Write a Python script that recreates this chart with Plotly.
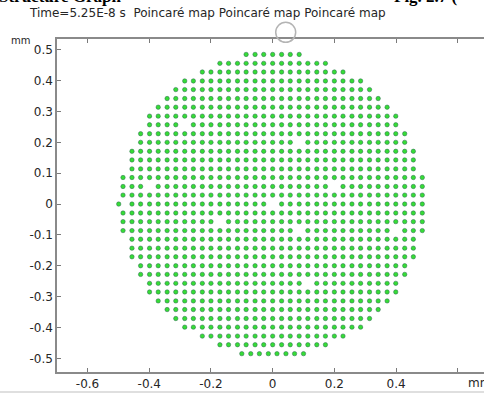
import plotly.graph_objects as go

# Poincaré map: particle positions (micrometres)
row_y_um = [485, 456, 428, 399, 371, 342, 314, 285, 257, 228, 200, 171, 143, 114, 86, 57, 29, 0,
            -29, -57, -86, -114, -143, -171, -200, -228, -257, -285, -314, -342, -371, -399, -428, -456, -485]

row_x_um = [
    [-86, -57, -29, 0, 29, 57, 86],
    [-171, -143, -114, -86, -57, -29, 0, 29, 57, 86, 114, 143, 171],
    [-228, -200, -171, -143, -114, -86, -57, -29, 0, 29, 57, 86, 114, 143, 171, 200, 228],
    [-285, -257, -228, -200, -171, -143, -114, -86, -57, -29, 0, 29, 57, 86, 114, 143, 171, 200, 228, 257, 285],
    [-314, -285, -257, -228, -200, -171, -143, -114, -86, -57, -29, 0, 29, 57, 86, 114, 143, 171, 200, 228, 257, 285, 314],
    [-342, -314, -285, -257, -228, -200, -171, -143, -114, -86, -57, -29, 0, 29, 57, 86, 114, 143, 171, 200, 228, 257, 285, 314, 342],
    [-371, -342, -314, -285, -257, -228, -200, -171, -143, -114, -86, -57, -29, 0, 29, 57, 86, 114, 143, 171, 200, 228, 257, 285, 314, 342, 371],
    [-399, -371, -342, -314, -285, -257, -228, -200, -171, -143, -114, -86, -57, -29, 0, 29, 57, 86, 114, 143, 171, 200, 228, 257, 285, 314, 342, 371, 399],
    [-399, -371, -342, -314, -257, -228, -200, -171, -143, -114, -86, -57, -29, 0, 29, 57, 86, 114, 143, 171, 200, 228, 257, 285, 314, 342, 371, 399],
    [-428, -399, -371, -342, -314, -285, -257, -228, -200, -171, -143, -114, -86, -57, -29, 0, 29, 57, 86, 114, 143, 171, 200, 228, 257, 285, 314, 342, 371, 399, 428],
    [-428, -399, -371, -342, -314, -285, -257, -228, -200, -171, -143, -114, -86, -57, -29, 0, 29, 57, 114, 143, 171, 200, 228, 257, 285, 314, 342, 371, 399, 428],
    [-456, -428, -399, -371, -342, -314, -285, -257, -228, -200, -171, -143, -114, -86, -57, -29, 0, 29, 57, 86, 114, 143, 171, 200, 228, 257, 285, 314, 342, 371, 399, 428, 456],
    [-456, -428, -399, -371, -342, -314, -285, -257, -228, -200, -171, -143, -114, -86, -57, -29, 0, 29, 57, 86, 114, 143, 171, 200, 228, 257, 285, 314, 342, 371, 399, 428, 456],
    [-456, -428, -399, -371, -342, -314, -285, -257, -228, -200, -171, -143, -114, -86, -57, -29, 0, 29, 57, 86, 114, 143, 171, 200, 228, 257, 285, 314, 342, 371, 399, 428, 456],
    [-485, -456, -428, -399, -371, -342, -314, -285, -257, -228, -200, -171, -143, -114, -86, -57, -29, 0, 29, 57, 86, 114, 143, 171, 200, 228, 257, 285, 314, 342, 371, 399, 428, 456, 485],
    [-485, -456, -428, -371, -342, -314, -285, -257, -228, -200, -171, -143, -114, -86, -57, -29, 0, 29, 57, 86, 114, 143, 171, 228, 257, 285, 314, 342, 371, 399, 428, 456, 485],
    [-485, -456, -428, -399, -371, -342, -314, -285, -257, -228, -200, -171, -143, -114, -86, -57, -29, 0, 29, 57, 86, 114, 143, 171, 200, 228, 257, 285, 314, 342, 371, 399, 428, 456, 485],
    [-499, -456, -428, -399, -371, -342, -314, -285, -257, -228, -200, -171, -143, -114, -86, -57, -29, 29, 57, 86, 114, 143, 171, 200, 228, 257, 285, 314, 342, 371, 399, 428, 456, 485],
    [-485, -456, -428, -399, -371, -342, -314, -285, -257, -228, -200, -171, -143, -114, -86, -57, -29, 0, 29, 57, 86, 114, 143, 171, 200, 228, 257, 285, 314, 342, 371, 399, 428, 456, 485],
    [-485, -456, -428, -399, -371, -342, -314, -285, -257, -228, -200, -143, -114, -86, -57, -29, 0, 29, 57, 86, 114, 143, 171, 200, 228, 257, 285, 314, 342, 371, 399, 428, 456, 485],
    [-485, -456, -428, -399, -371, -342, -314, -285, -257, -228, -200, -171, -143, -114, -86, -57, -29, 0, 29, 57, 114, 143, 171, 200, 228, 257, 285, 314, 342, 371, 428, 456, 485],
    [-456, -428, -399, -371, -342, -314, -285, -257, -228, -200, -171, -143, -114, -86, -57, -29, 0, 29, 57, 86, 114, 143, 171, 200, 228, 257, 285, 314, 342, 371, 399, 428, 456],
    [-456, -428, -399, -371, -342, -314, -285, -257, -228, -200, -171, -143, -114, -86, -57, -29, 0, 29, 57, 86, 114, 143, 171, 200, 228, 257, 285, 314, 342, 371, 399, 428, 456],
    [-456, -428, -399, -371, -342, -314, -285, -257, -228, -200, -171, -143, -114, -86, -57, -29, 0, 29, 57, 86, 114, 143, 171, 200, 228, 257, 285, 314, 342, 371, 399, 428, 456],
    [-428, -399, -371, -342, -314, -285, -257, -228, -200, -171, -143, -114, -86, -57, -29, 0, 29, 57, 86, 114, 143, 171, 200, 228, 257, 285, 314, 342, 371, 399, 428],
    [-428, -399, -371, -342, -314, -285, -257, -228, -200, -171, -143, -114, -86, -57, -29, 0, 29, 57, 86, 114, 143, 171, 200, 228, 257, 285, 314, 342, 371, 399, 428],
    [-399, -371, -342, -314, -285, -257, -228, -200, -171, -143, -114, -86, -57, -29, 0, 29, 57, 86, 143, 171, 200, 228, 257, 285, 314, 342, 371, 399],
    [-399, -371, -342, -314, -285, -257, -228, -200, -171, -143, -114, -86, -57, -29, 0, 29, 57, 86, 114, 143, 171, 200, 228, 257, 285, 314, 342, 371, 399],
    [-371, -342, -314, -285, -257, -228, -200, -171, -143, -114, -86, -57, -29, 0, 29, 57, 86, 114, 143, 171, 200, 228, 257, 285, 314, 342, 371],
    [-342, -314, -285, -257, -228, -200, -171, -143, -114, -86, -57, -29, 0, 29, 57, 86, 114, 143, 171, 200, 228, 257, 285, 314, 342],
    [-314, -285, -257, -228, -200, -171, -143, -114, -86, -57, -29, 0, 29, 57, 86, 114, 143, 171, 200, 228, 257, 285, 314],
    [-285, -257, -228, -200, -171, -143, -114, -86, -57, -29, 0, 29, 57, 86, 114, 143, 171, 200, 228, 257, 285],
    [-228, -200, -171, -143, -114, -86, -57, -29, 0, 29, 57, 86, 114, 143, 171, 200, 228],
    [-171, -143, -114, -86, -57, -29, 0, 29, 57, 86, 114, 143, 171],
    [-100, -71, -43, -14, 14, 43, 71, 100],
]

x_tick_vals = [-0.6, -0.4, -0.2, 0, 0.2, 0.4, 0.6]
x_tick_text = ["-0.6", "-0.4", "-0.2", "0", "0.2", "0.4", ""]
y_tick_vals = [0.5, 0.4, 0.3, 0.2, 0.1, 0, -0.1, -0.2, -0.3, -0.4, -0.5]
y_tick_text = ["0.5", "0.4", "0.3", "0.2", "0.1", "0", "-0.1", "-0.2", "-0.3", "-0.4", "-0.5"]

title_text = "Time=5.25E-8 s  Poincaré map Poincaré map Poincaré map"

xs, ys = [], []
for y_um, row in zip(row_y_um, row_x_um):
    for x_um in row:
        xs.append(x_um / 1000.0)
        ys.append(y_um / 1000.0)

fig = go.Figure()
fig.add_trace(go.Scatter(
    x=xs, y=ys, mode="markers",
    marker=dict(size=4.4, color="#36dc36", line=dict(color="#2a6650", width=0.5)),
    showlegend=False, hoverinfo="skip",
))

FONT = "DejaVu Sans, sans-serif"
axis_common = dict(showgrid=False, zeroline=False, showline=True, linecolor="#8a8a8a", linewidth=1.5,
                   ticks="inside", ticklen=4, tickwidth=1, tickcolor="#7a7a7a", automargin=False,
                   tickfont=dict(family=FONT, size=12, color="#262626"))

fig.update_xaxes(range=[-0.699, 0.685], tickvals=x_tick_vals, ticktext=x_tick_text,
                 mirror="ticks", **axis_common)
fig.update_yaxes(range=[-0.5444, 0.535], tickvals=y_tick_vals, ticktext=y_tick_text,
                 mirror=False, **axis_common)

fig.update_layout(
    width=484, height=394,
    margin=dict(l=57, r=0, t=39, b=22, autoexpand=False),
    paper_bgcolor="white", plot_bgcolor="white",
    font=dict(family=FONT, size=12, color="#262626"),
    annotations=[
        dict(text=title_text, xref="paper", yref="paper", x=-0.0703, y=1.0781,
             xanchor="left", yanchor="middle", showarrow=False,
             font=dict(family=FONT, size=12, color="#262626")),
        dict(text="mm", xref="paper", yref="paper", x=-0.112, y=0.994,
             xanchor="left", yanchor="middle", showarrow=False,
             font=dict(family=FONT, size=10, color="#262626")),
        dict(text="mm", xref="paper", yref="paper", x=0.958, y=-0.033,
             xanchor="left", yanchor="middle", showarrow=False,
             font=dict(family=FONT, size=12, color="#262626")),
        dict(text="<b>Structure Graph</b>", xref="paper", yref="paper", x=0.157, y=1.1291,
             xanchor="right", yanchor="middle", showarrow=False,
             font=dict(family="Liberation Serif, serif", size=17, color="black")),
        dict(text="<b>Fig. 2.7 (</b>", xref="paper", yref="paper", x=0.785, y=1.1291,
             xanchor="left", yanchor="middle", showarrow=False,
             font=dict(family="Liberation Serif, serif", size=17, color="black")),
    ],
    shapes=[
        dict(type="circle", xref="paper", yref="paper", x0=0.5122, x1=0.5590, y0=0.9901, y1=1.0502,
             line=dict(color="#b4b4b4", width=1.5)),
        dict(type="line", xref="paper", yref="paper", x0=-0.14, x1=1.0, y0=-0.0601, y1=-0.0601,
             line=dict(color="#d4d4d4", width=1.5)),
    ],
)

fig.write_html(
    "out.html",
    config={"displayModeBar": False},
    post_script="document.body.style.margin='0';document.body.style.padding='0';document.body.style.overflow='hidden';",
)
